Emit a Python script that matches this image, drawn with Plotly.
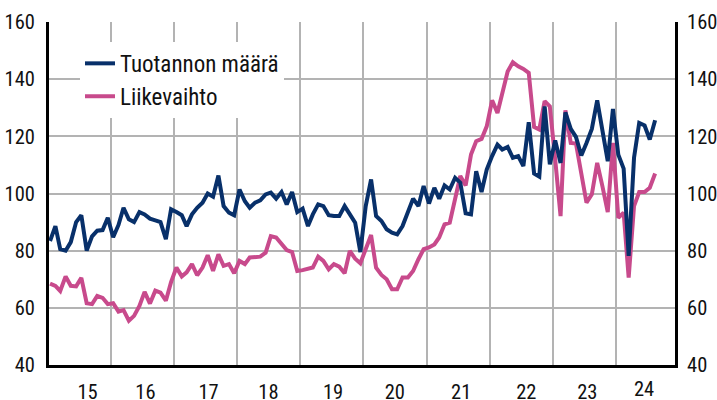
import pandas as pd
import plotly.graph_objects as go

# Monthly data, Jan 2015 - Aug 2024
dates = pd.date_range("2015-01-01", periods=116, freq="MS") + pd.Timedelta(days=14)

tuotannon_maara = [
    83.4, 88.6, 80.5, 80.0, 83.0, 90.0, 92.4, 80.0, 85.0, 87.0, 87.2, 91.5,
    84.7, 89.0, 95.0, 91.0, 90.0, 93.5, 92.7, 91.2, 90.6, 90.0, 84.0, 94.5,
    93.5, 92.4, 88.6, 92.7, 95.0, 96.8, 100.0, 98.9, 106.3, 95.6, 93.3, 92.4,
    101.4, 97.3, 95.0, 96.8, 97.6, 99.7, 100.3, 98.2, 100.5, 96.2, 100.5, 93.5,
    94.7, 88.6, 92.7, 96.2, 95.6, 92.4, 92.1, 92.1, 95.6, 92.7, 89.8, 79.5,
    95.6, 104.9, 92.1, 90.4, 87.5, 86.3, 85.7, 88.6, 93.1, 98.2, 95.6, 102.6,
    96.5, 102.0, 98.2, 102.8, 101.4, 105.5, 103.8, 93.1, 92.7, 107.8, 100.5, 108.4,
    113.1, 117.1, 115.4, 116.3, 112.5, 113.1, 109.6, 124.9, 107.0, 105.9, 130.5, 110.2,
    118.6, 110.7, 128.4, 122.6, 119.8, 113.3, 117.7, 122.6, 132.6, 121.2, 111.3, 129.6,
    113.6, 108.7, 78.2, 112.5, 124.7, 123.8, 118.9, 125.6,
]

liikevaihto = [
    68.5, 67.7, 65.9, 71.0, 67.7, 67.5, 70.5, 61.6, 61.3, 64.2, 63.5, 61.3,
    61.6, 58.7, 59.2, 55.5, 57.2, 60.7, 65.6, 61.5, 66.0, 65.3, 62.5, 69.0,
    74.1, 71.0, 72.4, 75.3, 71.4, 74.1, 78.4, 72.9, 78.7, 74.7, 75.3, 72.1,
    76.4, 75.3, 77.6, 77.9, 77.9, 79.3, 85.1, 84.6, 82.2, 80.2, 79.5, 72.9,
    73.2, 73.6, 74.1, 77.9, 76.4, 73.5, 75.3, 74.4, 72.1, 79.9, 77.2, 75.6,
    80.5, 85.5, 74.0, 71.5, 70.0, 66.5, 66.5, 70.6, 70.6, 72.9, 77.0, 80.5,
    81.1, 82.2, 84.6, 89.2, 89.8, 97.9, 106.1, 102.8, 113.6, 118.3, 119.1, 123.5,
    132.6, 128.2, 135.2, 142.7, 145.9, 144.5, 143.6, 142.2, 123.3, 122.4, 132.3, 130.5,
    111.9, 92.1, 129.1, 117.7, 117.5, 107.0, 96.8, 99.7, 110.7, 102.6, 93.5, 117.7,
    91.5, 93.3, 70.6, 95.6, 100.5, 100.5, 102.0, 107.0,
]

year_labels = ["15", "16", "17", "18", "19", "20", "21", "22", "23"]
label_dates = ["2015-08-20", "2016-07-20", "2017-07-20", "2018-07-01", "2019-07-10",
               "2020-07-01", "2021-07-20", "2022-08-01", "2023-07-20"]
last_label = "24"
last_label_date = "2024-06-10"
year_starts = [f"{y}-01-01" for y in range(2016, 2025)]
y_ticks = [40, 60, 80, 100, 120, 140, 160]

BLUE = "#08306A"
PINK = "#C84A8C"
GRID = "#B3B3B3"
FONT = "Roboto Condensed, Liberation Sans Narrow, sans-serif"
TXT = "#111111"

fig = go.Figure()
fig.add_trace(go.Scatter(x=dates, y=liikevaihto, name="Liikevaihto", mode="lines",
                         line=dict(color=PINK, width=4), yaxis="y", legendrank=2))
fig.add_trace(go.Scatter(x=dates, y=tuotannon_maara, name="Tuotannon määrä", mode="lines",
                         line=dict(color=BLUE, width=4), yaxis="y2", legendrank=1))

fig.update_layout(
    width=717, height=400,
    margin=dict(l=49, r=42, t=22, b=35),
    paper_bgcolor="white", plot_bgcolor="white",
    font=dict(family=FONT, size=21, color=TXT),
    showlegend=True,
    legend=dict(x=0.0495, y=0.942, xanchor="left", yanchor="top",
                bgcolor="white", borderwidth=0, font=dict(family=FONT, size=23, color=TXT),
                itemwidth=30, tracegroupgap=0),
    xaxis=dict(type="date", range=["2015-01-09", "2024-12-08"], automargin=False,
               tickmode="array", tickvals=label_dates, ticktext=year_labels,
               tickfont=dict(family=FONT, size=20.5, color=TXT),
               ticks="", showgrid=False, showline=True, linecolor="black", linewidth=3,
               ticklabelstandoff=6,
               minor=dict(tickmode="array", tickvals=year_starts, showgrid=True,
                          gridcolor=GRID, gridwidth=1.5, ticks="")),
    yaxis=dict(range=[40, 160], tickmode="array", tickvals=y_ticks, automargin=False,
               tickfont=dict(family=FONT, size=20.5, color=TXT),
               showgrid=True, gridcolor=GRID, gridwidth=1.5,
               showline=True, linecolor="black", linewidth=3, ticks="",
               ticklabelstandoff=7, zeroline=False),
    yaxis2=dict(range=[40, 160], tickmode="array", tickvals=y_ticks, overlaying="y",
                tickfont=dict(family=FONT, size=20.5, color=TXT),
                side="right", showgrid=False, showline=True, linecolor="black", automargin=False,
                linewidth=3, ticks="", ticklabelstandoff=5, zeroline=False),
)

fig.add_annotation(x=last_label_date, y=-0.030, xref="x", yref="paper", text=last_label,
                   showarrow=False, yanchor="top", font=dict(family=FONT, size=20.5, color=TXT))

fig.write_html("out.html", config={"displayModeBar": False},
               post_script="document.body.style.margin='0';document.body.style.overflow='hidden';")
